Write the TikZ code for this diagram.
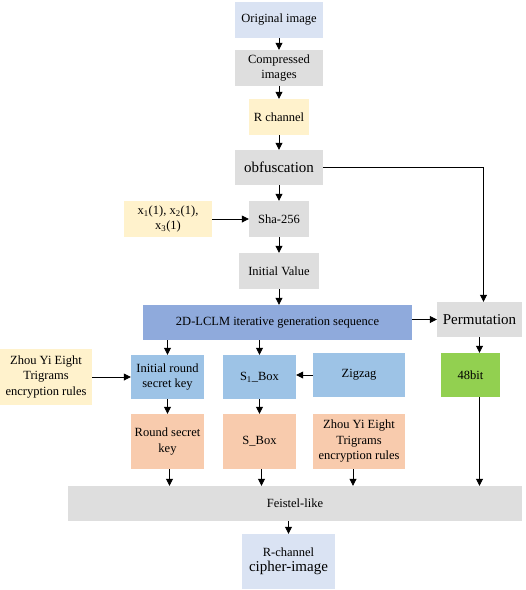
\documentclass[tikz,border=0pt]{standalone}
\usepackage{fontspec}
\setmainfont{Liberation Serif}
\usetikzlibrary{positioning,arrows.meta}
\definecolor{boxgrey}{RGB}{222,222,222}
\definecolor{boxlav}{RGB}{218,227,243}
\definecolor{boxylw}{RGB}{255,242,204}
\definecolor{boxmid}{RGB}{143,170,220}
\definecolor{boxsky}{RGB}{157,195,230}
\definecolor{boxpch}{RGB}{248,203,173}
\definecolor{boxgrn}{RGB}{146,208,80}
\newcommand{\smallfs}{\fontsize{12.5}{15.5}\selectfont}
\newcommand{\bigfs}{\fontsize{15}{18}\selectfont}

\begin{document}
\begin{tikzpicture}[
  x=1pt,y=-1pt,
  blk/.style={minimum height=36pt,align=center,inner sep=1pt,font=\smallfs},
  gry/.style={blk,fill=boxgrey},
  lav/.style={blk,fill=boxlav},
  ylw/.style={blk,fill=boxylw},
  sky/.style={blk,fill=boxsky,minimum height=44pt},
  pch/.style={blk,fill=boxpch,minimum height=55pt},
  ar/.style={-{Triangle[length=7pt,width=7pt]},line width=0.8pt}
]
\useasboundingbox (0,0) rectangle (526,590);

% main column
\node[lav,minimum width=88pt] (orig) at (279,20) {Original image};
\node[gry,minimum width=88pt] (comp) at (279,68) {Compressed\\images};
\node[ylw,minimum width=60pt] (rch) at (279,117) {R channel};
\node[gry,minimum width=88pt,minimum height=35pt,font=\bigfs] (obf) at (279,167.5) {obfuscation};
\node[gry,minimum width=60pt] (sha) at (279,219) {Sha-256};
\node[ylw,minimum width=88pt] (xin) at (168,219) {x\textsubscript{1}(1), x\textsubscript{2}(1),\\x\textsubscript{3}(1)};
\node[gry,minimum width=80pt] (init) at (279,271) {Initial Value};
\node[blk,fill=boxmid,minimum width=269pt,minimum height=35pt] (lclm) at (277.5,322.5) {2D-LCLM iterative generation sequence};
\node[gry,minimum width=85pt,minimum height=35pt,font=\bigfs] (perm) at (479.5,319.5) {Permutation};

% key and box row
\node[ylw,minimum width=92pt,minimum height=56pt] (zyl) at (46,377) {Zhou Yi Eight\\Trigrams\\encryption rules};
\node[sky,minimum width=73pt] (irk) at (167.5,377) {Initial round\\secret key};
\node[sky,minimum width=73pt] (sbone) at (259.5,377) {S\textsubscript{1}\_Box};
\node[sky,minimum width=92pt] (zig) at (359,375) {Zigzag};
\node[blk,fill=boxgrn,minimum width=59pt,minimum height=44pt] (bit) at (470.5,375) {48bit};
\node[pch,minimum width=73pt] (rsk) at (167.5,441.5) {Round secret\\key};
\node[pch,minimum width=73pt] (sbox) at (259.5,441.5) {S\_Box};
\node[pch,minimum width=92pt] (zyr) at (359,441.5) {Zhou Yi Eight\\Trigrams\\encryption rules};

% output
\node[gry,minimum width=454pt,minimum height=35pt] (feis) at (295,503.5) {Feistel-like};
\node[lav,minimum width=93pt,minimum height=55pt] (ciph) at (288.5,561.5) {R-channel\\{\bigfs cipher-image}};

\draw[ar] (orig) -- (comp);
\draw[ar] (comp) -- (rch);
\draw[ar] (rch) -- (obf);
\draw[ar] (obf) -- (sha);
\draw[ar] (xin) -- (sha);
\draw[ar] (sha) -- (init);
\draw[ar] (init) -- (init |- lclm.north);
\draw[ar] (obf.east) -| ([xshift=4pt]perm.north);
\draw[ar] (lclm.east |- perm) -- (perm.west);
\draw[ar] (irk.north |- lclm.south) -- (irk.north);
\draw[ar] (sbone.north |- lclm.south) -- (sbone.north);
\draw[ar] (zyl.east |- irk) -- (irk.west);
\draw[ar] (zig.west) -- (sbone.east |- zig);
\draw[ar] (perm.south) -- (perm.south |- bit.north);
\draw[ar] (irk) -- (rsk);
\draw[ar] (sbone) -- (sbox);
\draw[ar] ([xshift=2pt]rsk.south) -- ([xshift=2pt]rsk.south |- feis.north);
\draw[ar] ([xshift=2pt]sbox.south) -- ([xshift=2pt]sbox.south |- feis.north);
\draw[ar] ([xshift=-6pt]zyr.south) -- ([xshift=-6pt]zyr.south |- feis.north);
\draw[ar] (bit.south -| perm) -- (perm |- feis.north);
\draw[ar] (feis.south -| ciph) -- (ciph.north);
\end{tikzpicture}
\end{document}
